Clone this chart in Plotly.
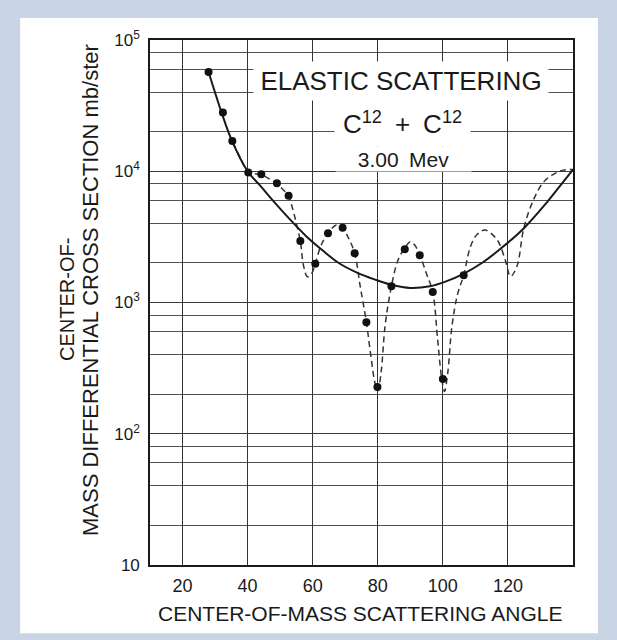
import plotly.graph_objects as go

# ---- data ----
angle_pts = [28, 32.4, 35.3, 40.2, 44.2, 49.0, 52.6, 56.2, 60.8, 64.7,
             69.2, 72.9, 76.5, 79.9, 84.2, 88.3, 92.9, 96.9, 100.0, 106.4]
sigma_pts = [5.7e4, 2.8e4, 1.7e4, 9.8e3, 9.5e3, 8.1e3, 6.5e3, 2.94e3, 1.97e3, 3.37e3,
             3.71e3, 2.37e3, 708, 227, 1.33e3, 2.54e3, 2.29e3, 1.2e3, 261, 1.61e3]

angle_smooth = [28, 32, 35, 40, 44, 48, 53, 58, 63, 68, 73.6, 79, 84, 90,
                96, 101, 106, 112, 118, 125, 132, 137, 140]
sigma_smooth = [5.7e4, 2.8e4, 1.75e4, 1.0e4, 7.7e3, 5.9e3, 4.3e3, 3.2e3, 2.5e3, 2.0e3,
                1.69e3, 1.5e3, 1.37e3, 1.29e3, 1.33e3, 1.45e3, 1.64e3, 2.0e3, 2.6e3,
                3.7e3, 5.8e3, 8.3e3, 1.03e4]

angle_osc = [35.5, 37.5, 40.2, 42, 44.2, 46.5, 49, 51, 52.6, 54, 55.2, 56.2, 57.2,
             58.4, 59.6, 60.8, 62.5, 64.7, 67.3, 69.2, 71, 72.9, 74.6, 76.5, 78,
             79.2, 80, 81, 82.3, 84.2, 86.2, 88.3, 90, 91.3, 92.9, 95, 96.9, 98.4,
             99.6, 100.5, 101.5, 102.8, 104.5, 106.4, 108.5, 110.5, 113, 116.7,
             119.2, 120.8, 122.8, 124.9, 127.9, 131, 134.1, 137, 140]
sigma_osc = [1.65e4, 1.3e4, 9.9e3, 9.6e3, 9.4e3, 8.8e3, 8.0e3, 7.2e3, 6.4e3, 5.0e3,
             3.8e3, 2.94e3, 1.9e3, 1.57e3, 1.65e3, 1.97e3, 2.7e3, 3.37e3, 3.9e3,
             3.7e3, 3.1e3, 2.37e3, 1.33e3, 708, 370, 240, 212, 290, 680, 1.33e3,
             2.1e3, 2.6e3, 2.9e3, 2.75e3, 2.3e3, 1.65e3, 1.2e3, 520, 270, 210, 290,
             660, 1.15e3, 1.61e3, 2.67e3, 3.3e3, 3.56e3, 3.0e3, 2.1e3, 1.58e3, 1.9e3,
             3.7e3, 6.1e3, 8.3e3, 9.5e3, 1.02e4, 1.03e4]

x_ticks = [20, 40, 60, 80, 100, 120]
y_major = [10, 100, 1000, 10000, 100000]
y_major_text = ["10", "10<sup>2</sup>", "10<sup>3</sup>", "10<sup>4</sup>", "10<sup>5</sup>"]
y_minor = [20, 40, 60, 80, 200, 400, 600, 800, 2000, 4000, 6000, 8000,
           20000, 40000, 60000, 80000]

FONT = "Liberation Sans, Arial, sans-serif"
INK = "#1a1a1a"

fig = go.Figure()
fig.add_trace(go.Scatter(x=angle_osc, y=sigma_osc, mode="lines", line_shape="spline",
                         line=dict(color="#333333", width=1.5, dash="6px,4px"),
                         hoverinfo="skip", showlegend=False))
fig.add_trace(go.Scatter(x=angle_smooth, y=sigma_smooth, mode="lines", line_shape="spline",
                         line=dict(color=INK, width=2), hoverinfo="skip", showlegend=False))
fig.add_trace(go.Scatter(x=angle_pts, y=sigma_pts, mode="markers",
                         marker=dict(color="#111111", size=8), showlegend=False))

# white sheet on blue-grey border
fig.add_shape(type="rect", xref="paper", yref="paper", x0=-0.307, x1=1.059,
              y0=-0.13, y1=1.042, fillcolor="white", line_width=0, layer="below")

def px_x(p):
    return (p - 150) / 423.0

def px_y(p):
    return (565 - p) / 525.0

def note(text, x, y, size, angle=0, **kw):
    fig.add_annotation(text=text, xref="paper", yref="paper", x=px_x(x), y=px_y(y),
                       xanchor="center", yanchor="middle", textangle=angle,
                       showarrow=False, font=dict(family=FONT, size=size, color=INK), **kw)

# chart label block (white boxes cut the grid as in the original)
note("ELASTIC SCATTERING", 401, 81, 26, width=294, height=38, bgcolor="white", borderpad=0)
note("C<sup>12</sup>\u2002+\u2002C<sup>12</sup>", 402, 123, 26, width=135, height=46,
     bgcolor="white", borderpad=0)
note("3.00\u2002Mev", 403, 159, 21, width=135, height=24, bgcolor="white", borderpad=0)

# axis titles
note("CENTER-OF-", 67, 300, 20, angle=-90)
note("MASS DIFFERENTIAL CROSS SECTION mb/ster", 90, 290, 22, angle=-90)
note("CENTER-OF-MASS SCATTERING ANGLE", 360, 613, 21)

fig.update_xaxes(range=[10, 140], tickmode="array", tickvals=x_ticks,
                 showgrid=True, gridcolor="#333333", gridwidth=1.2,
                 showline=True, mirror=True, linecolor=INK, linewidth=1.6,
                 ticks="outside", ticklen=4, tickcolor="rgba(0,0,0,0)",
                 tickfont=dict(family=FONT, size=18, color=INK), zeroline=False)
fig.update_yaxes(type="log", range=[1, 5], tickmode="array", tickvals=y_major,
                 ticktext=y_major_text, showgrid=True, gridcolor="#3a3a3a", gridwidth=1.3,
                 minor=dict(tickmode="array", tickvals=y_minor, showgrid=True,
                            gridcolor="#505050", gridwidth=1.1, ticks=""),
                 showline=True, mirror=True, linecolor=INK, linewidth=1.6,
                 ticks="outside", ticklen=5, tickcolor="rgba(0,0,0,0)",
                 tickfont=dict(family=FONT, size=17, color=INK), zeroline=False)

fig.update_layout(width=617, height=640, autosize=False,
                  margin=dict(l=150, r=44, t=40, b=75),
                  paper_bgcolor="#c9d5e5", plot_bgcolor="white",
                  showlegend=False)

fig.write_html("out.html", config={"displayModeBar": False},
               post_script="document.body.style.margin='0';")
